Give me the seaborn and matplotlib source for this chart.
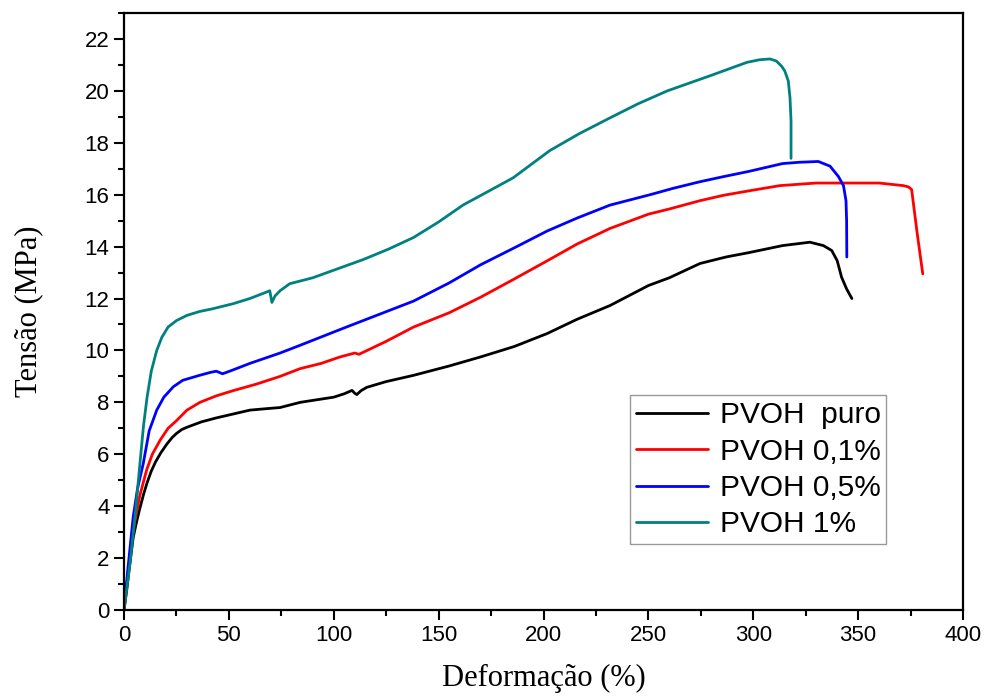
import matplotlib
matplotlib.use("Agg")
import matplotlib.pyplot as plt
import seaborn as sns
import pandas as pd
from matplotlib.ticker import MultipleLocator

# curves (strain %, stress MPa)
puro_x = [0, 1.3, 2.5, 4.4, 6, 7.5, 9.3, 11, 13, 15, 17.5, 20.5, 23, 25, 27.5, 30,
          37, 44, 52, 60, 67, 74.4, 84, 92, 100, 105, 108.7, 110, 111, 113, 115.8,
          125, 138, 155, 170, 186, 201.7, 216, 231.7, 250, 260, 274.6, 287, 298, 314,
          322, 327, 333.4, 337.4, 340, 342.1, 344.5, 347]
puro_y = [0, 0.77, 1.6, 2.8, 3.4, 3.9, 4.45, 4.9, 5.35, 5.7, 6.05, 6.4, 6.65, 6.8,
          6.95, 7.04, 7.25, 7.4, 7.55, 7.7, 7.75, 7.8, 8.0, 8.1, 8.2, 8.33, 8.46, 8.35,
          8.3, 8.45, 8.58, 8.8, 9.04, 9.4, 9.75, 10.15, 10.65, 11.2, 11.73, 12.5, 12.8,
          13.35, 13.6, 13.77, 14.04, 14.12, 14.17, 14.04, 13.85, 13.46, 12.82, 12.37, 12.0]

p01_x = [0, 2, 4.4, 7.5, 10.8, 13.5, 17.2, 21, 25.1, 30, 36.2, 44, 52, 63, 74.4, 84,
         94, 103, 110, 112, 125, 138, 155, 170, 186, 201.7, 216, 231.7, 250, 260,
         274.6, 286, 298, 312.7, 330, 346, 360, 371.5, 374, 375.5, 378, 380.8]
p01_y = [0, 1.5, 3.1, 4.4, 5.4, 6.0, 6.54, 7.0, 7.3, 7.7, 8.0, 8.25, 8.45, 8.7, 9.0,
         9.3, 9.5, 9.75, 9.9, 9.85, 10.35, 10.9, 11.45, 12.05, 12.75, 13.45, 14.1, 14.7,
         15.25, 15.45, 15.77, 15.98, 16.15, 16.35, 16.45, 16.45, 16.45, 16.35, 16.3,
         16.2, 14.6, 12.95]

p05_x = [0, 2, 4.4, 6.5, 9.2, 12, 15.6, 19, 23.5, 28, 36, 41, 44, 47, 52, 60, 74.4,
         84, 95, 106, 122, 138, 155, 170, 186, 201.7, 216, 231.7, 250.8, 262, 274.6,
         286, 298, 314, 322, 331, 336.6, 340.6, 343, 344.2, 344.5, 344.6]
p05_y = [0, 1.7, 3.6, 4.7, 5.65, 6.9, 7.7, 8.2, 8.6, 8.85, 9.04, 9.15, 9.2, 9.1, 9.25,
         9.5, 9.9, 10.2, 10.55, 10.9, 11.4, 11.9, 12.6, 13.3, 13.95, 14.6, 15.1, 15.6,
         16.0, 16.25, 16.5, 16.7, 16.9, 17.2, 17.25, 17.28, 17.1, 16.7, 16.35, 15.77,
         15.0, 13.6]

p1_x = [0, 3, 5.5, 7.6, 9.3, 11, 13, 15.6, 18, 21, 25, 30, 36, 42, 52, 60, 68, 69.5,
        70.5, 72, 74.4, 79, 90, 102, 114, 126, 138, 150, 161.6, 173, 185.5, 203, 217,
        231.7, 245, 259, 280, 297, 303, 308, 311, 313.5, 315, 316.7, 317.5, 318, 318]
p1_y = [0, 1.9, 3.8, 5.65, 7.1, 8.2, 9.2, 10.0, 10.5, 10.9, 11.15, 11.35, 11.5, 11.6,
        11.8, 12.0, 12.25, 12.3, 11.85, 12.1, 12.3, 12.57, 12.8, 13.15, 13.5, 13.9,
        14.35, 14.95, 15.6, 16.1, 16.65, 17.7, 18.35, 18.96, 19.5, 20.0, 20.6, 21.1,
        21.2, 21.23, 21.15, 20.95, 20.77, 20.38, 19.74, 18.85, 17.4]

labels = ["PVOH  puro", "PVOH 0,1%", "PVOH 0,5%", "PVOH 1%"]
colors = ["#000000", "#ff0000", "#0000ff", "#008080"]

frames = []
for lab, xs, ys in zip(labels, [puro_x, p01_x, p05_x, p1_x], [puro_y, p01_y, p05_y, p1_y]):
    frames.append(pd.DataFrame({"Deformação": xs, "Tensão": ys, "Amostra": lab}))
df = pd.concat(frames, ignore_index=True)

sns.set_style("ticks")
plt.rcParams['font.family'] = ['Liberation Sans', 'DejaVu Sans']
plt.rcParams['axes.edgecolor'] = 'black'
plt.rcParams['xtick.color'] = 'black'
plt.rcParams['ytick.color'] = 'black'
plt.rcParams['text.color'] = 'black'
plt.rcParams['axes.labelcolor'] = 'black'

fig = plt.figure(figsize=(9.85, 7), dpi=100)
ax = fig.add_axes([0.1259, 0.1286, 0.8518, 0.8528])

sns.lineplot(data=df, x="Deformação", y="Tensão", hue="Amostra", palette=colors,
             estimator=None, sort=False, linewidth=2.0, ax=ax)

ax.set_xlim(0, 400)
ax.set_ylim(0, 23)
ax.xaxis.set_major_locator(MultipleLocator(50))
ax.xaxis.set_minor_locator(MultipleLocator(25))
ax.yaxis.set_major_locator(MultipleLocator(2))
ax.yaxis.set_minor_locator(MultipleLocator(1))
ax.tick_params(which="major", direction="out", length=7, width=1.5, labelsize=16)
ax.tick_params(which="minor", direction="out", length=4, width=1.5)
for s in ax.spines.values():
    s.set_linewidth(1.6)
    s.set_visible(True)

ax.set_xlabel("Deformação (%)", family="Liberation Serif", fontsize=22, labelpad=13)
ax.set_ylabel("Tensão (MPa)", family="Liberation Serif", fontsize=22, labelpad=30)

handles, _ = ax.get_legend_handles_labels()
leg = ax.legend(handles, labels, loc="lower left", bbox_to_anchor=(0.603, 0.11),
                borderaxespad=0, fontsize=21.5, handlelength=2.4, handletextpad=0.4,
                labelspacing=0.28, frameon=True, fancybox=False, borderpad=0.2)
leg.get_frame().set_edgecolor("#808080")
leg.get_frame().set_linewidth(1.0)

fig.savefig("out.png", dpi=100, facecolor="white")
